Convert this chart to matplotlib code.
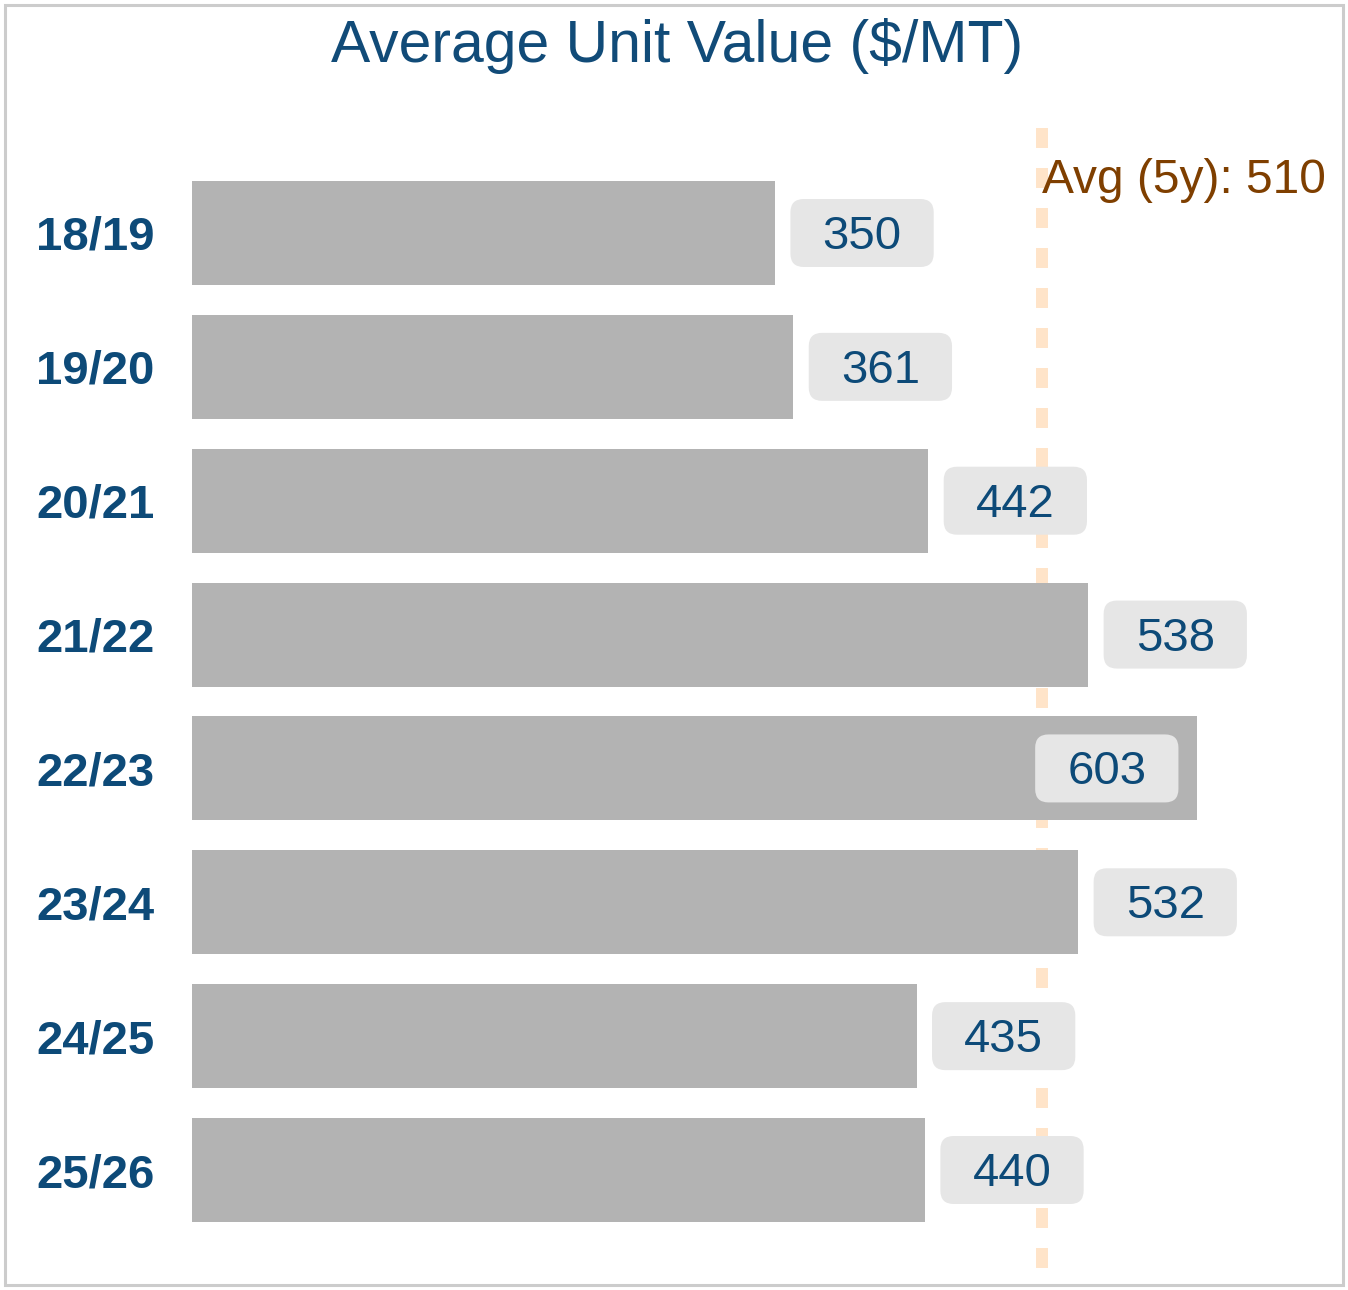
import matplotlib
matplotlib.use("Agg")
import matplotlib.pyplot as plt
from matplotlib.patches import FancyBboxPatch, Rectangle

plt.rcParams['font.family'] = ['Liberation Sans', 'DejaVu Sans']

categories = ["18/19", "19/20", "20/21", "21/22", "22/23", "23/24", "24/25", "25/26"]
values = [350, 361, 442, 538, 603, 532, 435, 440]
avg_value = 510
avg_label = "Avg (5y): 510"
title = "Average Unit Value ($/MT)"

W, H, DPI = 1348, 1290, 100
fig = plt.figure(figsize=(W / DPI, H / DPI), dpi=DPI)
fig.patch.set_facecolor('white')

ax_left, ax_right = 192, 1340
ax_top, ax_bottom = 128, 1268
ax = fig.add_axes([ax_left / W, 1 - ax_bottom / H, (ax_right - ax_left) / W, (ax_bottom - ax_top) / H])

px_per_unit = 1.666
xmax = (ax_right - ax_left) / px_per_unit
ax.set_xlim(0, xmax)
step_px = 133.86
ylim_top = -(233 - ax_top) / step_px
ylim_bot = (len(categories) - 1) + (ax_bottom - 1170) / step_px
ax.set_ylim(ylim_bot, ylim_top)

ypos = list(range(len(categories)))
ax.axvline(avg_value, color='#ffe4c9', linewidth=8.64, linestyle=(0, (20 / 12, 20 / 12)), zorder=1)
ax.barh(ypos, values, height=0.777, color='#b3b3b3', zorder=2)

text_color = '#0d4a78'
box_w = 86.0
box_h = 68 / step_px
pad_x = 9.2
mut_aspect = (1 / step_px) / (1 / px_per_unit)
for y, v in zip(ypos, values):
    left = v + pad_x
    if left + box_w > xmax:
        left = v - 10.9 - box_w
    box = FancyBboxPatch((left, y - box_h / 2), box_w, box_h,
                         boxstyle="round,pad=0,rounding_size=8",
                         mutation_aspect=mut_aspect,
                         facecolor='#e6e6e6', edgecolor='none', zorder=3)
    ax.add_patch(box)
    ax.text(left + box_w / 2, y + 0.03, f"{v}", ha='center', va='center',
            fontsize=34, color=text_color, zorder=4)

ax.text(avg_value, -0.39, avg_label, ha='left', va='center', fontsize=34.5,
        color='#7f3f00', zorder=4)

ax.set_yticks(ypos)
ax.set_yticklabels(categories, fontsize=34, fontweight='bold', color=text_color)
ax.tick_params(axis='y', length=0, pad=27)
ax.set_xticks([])
for s in ax.spines.values():
    s.set_visible(False)

fig.text(677 / W, 1 - 62 / H, title, ha='center', va='baseline', fontsize=42.4, color='#114b78')

fig.patches.append(Rectangle((5 / W, 5 / H), (W - 10) / W, (H - 10) / H,
                             transform=fig.transFigure, fill=False,
                             edgecolor='#cccccc', linewidth=2.2))

fig.savefig("out.png", dpi=DPI)
